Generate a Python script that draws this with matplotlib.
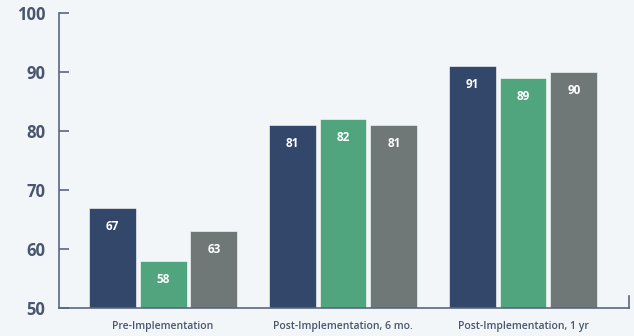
import matplotlib.pyplot as plt
import numpy as np

categories = ["Pre-Implementation", "Post-Implementation, 6 mo.", "Post-Implementation, 1 yr"]
series_a = [67, 81, 91]
series_b = [58, 82, 89]
series_c = [63, 81, 90]
yticks = [50, 60, 70, 80, 90, 100]

colors = ["#33476a", "#50a57f", "#6f7777"]
axis_col = "#5a6581"
text_col = "#4a5570"
bg = "#f2f6f8"

plt.rcParams['font.family'] = ['Open Sans', 'DejaVu Sans']

fig = plt.figure(figsize=(6.34, 3.36), dpi=100, facecolor=bg)
ax = fig.add_axes([59 / 634, 28 / 336, 570 / 634, 295 / 336])
ax.set_facecolor(bg)

x = np.arange(len(categories))
w = 0.261
off = 0.283
for i, vals in enumerate([series_a, series_b, series_c]):
    bars = ax.bar(x + (i - 1) * off, vals, width=w, bottom=0, color=colors[i],
                  edgecolor="#ffffff", linewidth=0.4)
    ax.bar_label(bars, labels=[str(v) for v in vals], padding=-18,
                 color="white", fontsize=8.5, fontweight="bold")

ax.set_ylim(50, 100)
ax.set_xlim(-0.578, 2.589)
ax.set_yticks(yticks)
ax.set_xticks(x)
ax.set_xticklabels(categories, fontsize=7.5, fontweight="semibold", color=text_col)
ax.tick_params(axis="x", length=0, pad=9)
ax.tick_params(axis="y", direction="in", length=7, width=1.2, color=axis_col,
               labelsize=12, labelcolor=text_col, pad=10)
for lab in ax.get_yticklabels():
    lab.set_fontweight("bold")

for s in ["top", "right"]:
    ax.spines[s].set_visible(False)
for s in ["left", "bottom"]:
    ax.spines[s].set_color(axis_col)
    ax.spines[s].set_linewidth(1.2)

# small end tick on the right of the baseline
ax.plot([1, 1], [0, 0.04], transform=ax.transAxes, color=axis_col,
        linewidth=1.2, clip_on=False)

fig.savefig("out.png", dpi=100, facecolor=bg)
